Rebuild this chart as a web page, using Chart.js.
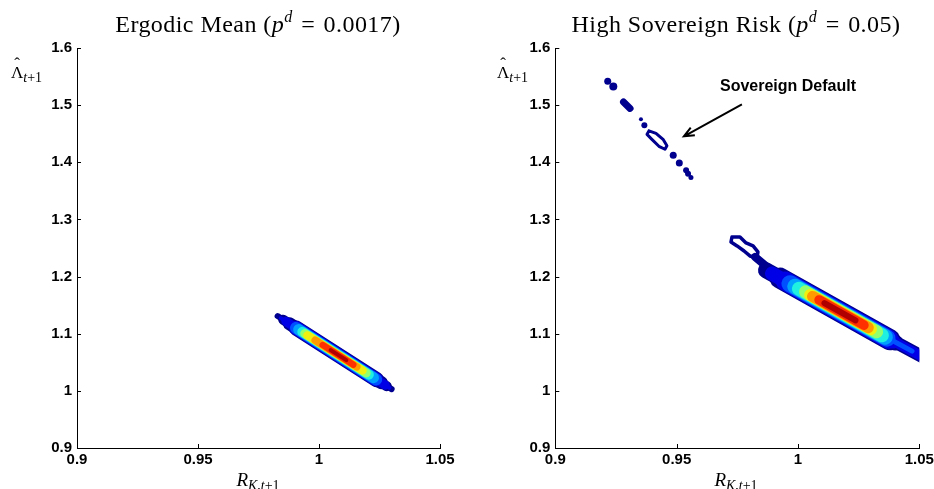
<!DOCTYPE html>
<html>
<head>
<meta charset="utf-8">
<script src="https://cdn.jsdelivr.net/npm/chart.js@4.4.1/dist/chart.umd.min.js"></script>
<style>
  html, body { margin: 0; padding: 0; background: #fff; }
  body { width: 934px; height: 489px; position: relative; overflow: hidden; }
  canvas { position: absolute; top: 0; }
  #left { left: 0; }
  #right { left: 467px; }
  .tex { position: absolute; font-family: 'Liberation Serif', 'Times New Roman', serif; color: #000; white-space: nowrap; }
  .title { font-size: 24px; line-height: 24px; letter-spacing: 0.45px; transform: translateX(-50%); }
  .title sup { font-size: 16px; line-height: 0; vertical-align: 10px; }
  .title .eq { margin: 0 2px; }
  .ylab { font-size: 17px; line-height: 17px; }
  .xlab { font-size: 19px; line-height: 19px; transform: translateX(-50%); }
  .tex sub { font-size: 14px; line-height: 0; vertical-align: -4px; }
  .hat { position: relative; display: inline-block; }
  .hat::after { content: 'ˆ'; position: absolute; left: 0; right: 0; top: -9px; text-align: center; font-size: 17px; }
</style>
</head>
<body>
<canvas id="left" width="467" height="489"></canvas>
<canvas id="right" width="490" height="489"></canvas>

<div class="tex title" style="left:258px;top:12px">Ergodic Mean (<i>p</i><sup><i>d</i></sup> <span class="eq">=</span> 0.0017)</div>
<div class="tex title" style="left:736px;top:12px">High Sovereign Risk (<i>p</i><sup><i>d</i></sup> <span class="eq">=</span> 0.05)</div>
<div class="tex ylab" style="left:11px;top:64px"><span class="hat">Λ</span><sub><i>t</i>+1</sub></div>
<div class="tex ylab" style="left:497px;top:64px"><span class="hat">Λ</span><sub><i>t</i>+1</sub></div>
<div class="tex xlab" style="left:258px;top:470px"><i>R</i><sub><i>K</i>,<i>t</i>+1</sub></div>
<div class="tex xlab" style="left:736px;top:470px"><i>R</i><sub><i>K</i>,<i>t</i>+1</sub></div>

<script>
const xTicks = [0.9, 0.95, 1, 1.05];
const yTicks = [0.9, 1, 1.1, 1.2, 1.3, 1.4, 1.5, 1.6];

// Ergodic mean density, contour bands from outside in: [R start, L start, R end, L end]
const ergodicBands = [
  [0.9829, 1.1309, 1.0300, 1.0030],
  [0.9852, 1.1245, 1.0280, 1.0082],
  [0.9878, 1.1174, 1.0258, 1.0142],
  [0.9906, 1.1098, 1.0238, 1.0196],
  [0.9842, 1.1273, 1.0291, 1.0054],
  [0.9863, 1.1216, 1.0274, 1.0100],
  [0.9904, 1.1105, 1.0237, 1.0197],
  [0.9905, 1.1101, 1.0236, 1.0200],
  [0.9916, 1.1072, 1.0225, 1.0230],
  [0.9931, 1.1032, 1.0206, 1.0284],
  [0.9941, 1.1003, 1.0195, 1.0313],
  [0.9952, 1.0972, 1.0180, 1.0355],
  [0.9984, 1.0886, 1.0156, 1.0419],
  [1.0015, 1.0803, 1.0142, 1.0457],
  [1.0048, 1.0712, 1.0113, 1.0537]
];
const ergodicColors = ['#00008F', '#00008F', '#00008F', '#00008F', '#0000E6', '#0000E6', '#0000E6',
  '#0050FF', '#00A0FF', '#20F0E0', '#90FF70', '#F0F010', '#FF9A00', '#FF3000', '#B00000'];
const ergodicWidths = [6, 10, 13, 15, 4, 9, 13.5, 12, 11, 10, 9, 8.3, 7.5, 6.3, 4];

// High sovereign risk density
const riskBands = [
  [0.9823, 1.2344, 0.9877, 1.2152],
  [0.9868, 1.2110, 1.0400, 1.0845],
  [0.9926, 1.1973, 1.0379, 1.0894],
  [1.0297, 1.1090, 1.0627, 1.0338],
  [0.9893, 1.2052, 1.0392, 1.0865],
  [0.9947, 1.1924, 1.0375, 1.0904],
  [1.0297, 1.1090, 1.0627, 1.0338],
  [0.9967, 1.1875, 1.0367, 1.0923],
  [1.0297, 1.1090, 1.0470, 1.0695],
  [0.9988, 1.1826, 1.0359, 1.0943],
  [1.0004, 1.1787, 1.0346, 1.0972],
  [1.0031, 1.1733, 1.0324, 1.1035],
  [1.0050, 1.1679, 1.0301, 1.1080],
  [1.0060, 1.1653, 1.0290, 1.1106],
  [1.0087, 1.1591, 1.0272, 1.1149],
  [1.0109, 1.1537, 1.0237, 1.1232]
];
const riskColors = ['#00008F', '#00008F', '#00008F', '#00008F', '#0000E6', '#0000E6', '#0000E6',
  '#0050FF', '#0050FF', '#00A0FF', '#20F0E0', '#90FF70', '#F0F010', '#FF9A00', '#FF3000', '#B00000'];
const riskWidths = [8, 16, 21, 13, 14, 19, 10, 17, 5, 15.5, 14, 13, 12, 11, 9.5, 6];

// outer contour loop at the upper-left end of the risk density
const riskHook = [
  [0.9728, 1.2693], [0.9761, 1.2693], [0.9786, 1.2588], [0.9815, 1.2536], [0.9835, 1.2431],
  [0.9831, 1.2326], [0.9802, 1.2361], [0.9778, 1.2448], [0.9749, 1.2536], [0.9724, 1.2605],
  [0.9728, 1.2693]
];

// sovereign default islands
const defaultDots = [
  [0.9216, 1.5419], [0.9239, 1.5327], [0.9353, 1.4751], [0.9367, 1.4646], [0.9486, 1.4123],
  [0.9511, 1.3989], [0.9539, 1.3861], [0.9547, 1.3800], [0.9559, 1.3734]
];
const defaultDotSizes = [3.5, 4, 2, 3, 3.5, 3.5, 3, 3, 2.5];
const defaultStreak = [[0.9281, 1.5056], [0.9308, 1.4943]];
const defaultRing = [
  [0.9386, 1.4550], [0.9415, 1.4507], [0.9444, 1.4402], [0.9460, 1.4289], [0.9452, 1.4228],
  [0.9427, 1.4280], [0.9398, 1.4402], [0.9378, 1.4489], [0.9386, 1.4550]
];

const noteLabel = 'Sovereign Default';
const noteAt = [0.9959, 1.5327];
const arrowFrom = [0.9769, 1.5013];
const arrowTo = [0.953, 1.4454];

const navy = '#00008F';
const tickFont = { family: "'Liberation Sans', Arial, sans-serif", size: 15, weight: 'bold' };

function pts(list) {
  return list.map(p => ({ x: p[0], y: p[1] }));
}

function bandSets(bands, colors, widths) {
  return bands.map((b, i) => ({
    data: [{ x: b[0], y: b[1] }, { x: b[2], y: b[3] }],
    showLine: true,
    borderColor: colors[i],
    borderWidth: widths[i],
    borderCapStyle: 'round',
    pointRadius: 0,
    clip: 0,
    order: bands.length - i + 1
  }));
}

function lineSet(list, width) {
  return {
    data: pts(list),
    showLine: true,
    borderColor: navy,
    borderWidth: width,
    borderCapStyle: 'round',
    borderJoinStyle: 'round',
    pointRadius: 0,
    clip: 0,
    order: 50
  };
}

// MATLAB-style ticks that point into the plot
const inwardTicks = {
  id: 'inwardTicks',
  afterDraw(chart) {
    const { ctx, chartArea: a, scales: { x, y } } = chart;
    ctx.save();
    ctx.strokeStyle = '#000';
    ctx.lineWidth = 1;
    ctx.beginPath();
    for (const v of xTicks) {
      const px = Math.round(x.getPixelForValue(v)) + 0.5;
      ctx.moveTo(px, a.bottom);
      ctx.lineTo(px, a.bottom - 4);
    }
    for (const v of yTicks) {
      const py = Math.round(y.getPixelForValue(v)) + 0.5;
      ctx.moveTo(a.left, py);
      ctx.lineTo(a.left + 4, py);
    }
    ctx.stroke();
    ctx.restore();
  }
};

const defaultNote = {
  id: 'defaultNote',
  afterDatasetsDraw(chart) {
    const { ctx, scales: { x, y } } = chart;
    ctx.save();
    ctx.fillStyle = '#000';
    ctx.font = "bold 16px 'Liberation Sans', Arial, sans-serif";
    ctx.textAlign = 'center';
    ctx.textBaseline = 'middle';
    ctx.fillText(noteLabel, x.getPixelForValue(noteAt[0]), y.getPixelForValue(noteAt[1]));

    const x0 = x.getPixelForValue(arrowFrom[0]), y0 = y.getPixelForValue(arrowFrom[1]);
    const x1 = x.getPixelForValue(arrowTo[0]), y1 = y.getPixelForValue(arrowTo[1]);
    const ang = Math.atan2(y1 - y0, x1 - x0);
    ctx.strokeStyle = '#000';
    ctx.lineWidth = 2;
    ctx.beginPath();
    ctx.moveTo(x0, y0);
    ctx.lineTo(x1, y1);
    ctx.moveTo(x1 - 11 * Math.cos(ang - 0.4), y1 - 11 * Math.sin(ang - 0.4));
    ctx.lineTo(x1, y1);
    ctx.lineTo(x1 - 11 * Math.cos(ang + 0.4), y1 - 11 * Math.sin(ang + 0.4));
    ctx.stroke();
    ctx.restore();
  }
};

function makeChart(id, datasets, padLeft, padRight, extra) {
  return new Chart(document.getElementById(id), {
    type: 'scatter',
    data: { datasets },
    options: {
      responsive: false,
      animation: false,
      events: [],
      layout: { padding: { left: padLeft, right: padRight, top: 48, bottom: 1 } },
      plugins: { legend: { display: false }, tooltip: { enabled: false } },
      scales: {
        x: {
          type: 'linear',
          min: 0.9,
          max: 1.05,
          afterBuildTicks: s => { s.ticks = xTicks.map(v => ({ value: v })); },
          afterFit: s => { s.height = 40; },
          grid: { display: false, drawTicks: false },
          border: { display: true, color: '#000', width: 1 },
          ticks: { autoSkip: false, maxRotation: 0, padding: 3, color: '#000', font: tickFont,
            callback: v => String(v) }
        },
        y: {
          type: 'linear',
          min: 0.9,
          max: 1.6,
          afterBuildTicks: s => { s.ticks = yTicks.map(v => ({ value: v })); },
          afterFit: s => { s.width = 40; },
          grid: { display: false, drawTicks: false },
          border: { display: true, color: '#000', width: 1 },
          ticks: { autoSkip: false, padding: 5, color: '#000', font: tickFont,
            callback: v => String(v) }
        }
      }
    },
    plugins: [inwardTicks].concat(extra)
  });
}

makeChart('left', bandSets(ergodicBands, ergodicColors, ergodicWidths), 37, 27, []);

const riskSets = bandSets(riskBands, riskColors, riskWidths).concat([
  lineSet(riskHook, 3.5),
  lineSet(defaultStreak, 7),
  lineSet(defaultRing, 3),
  {
    data: pts(defaultDots),
    pointRadius: defaultDotSizes,
    pointBackgroundColor: navy,
    pointBorderWidth: 0,
    clip: 0,
    order: 50
  }
]);
makeChart('right', riskSets, 48.3, 37.7, [defaultNote]);
</script>
</body>
</html>
